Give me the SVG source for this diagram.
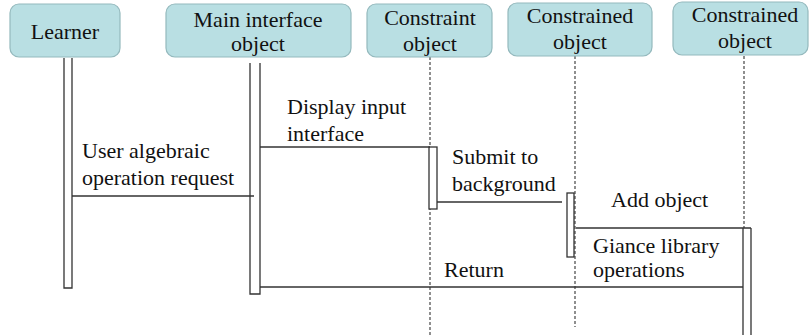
<svg xmlns="http://www.w3.org/2000/svg" width="811" height="335" viewBox="0 0 811 335" font-family="Liberation Serif, DejaVu Serif, serif">
<style>
.box{fill:#b9dfe3;stroke:#94b9bd;stroke-width:1.2}
text{font-family:"Liberation Serif", "DejaVu Serif", serif;font-size:22px;fill:#111}
.ln{stroke:#333;stroke-width:1.3;fill:none}
.dash{stroke:#333;stroke-width:1.1;stroke-dasharray:3,2;fill:none}
.act{fill:#fff;stroke:#333;stroke-width:1.3}
</style>
<rect width="811" height="335" fill="#fff"/>
<g id="lifelines">
<path class="ln" d="M64,58V288H72V58"/>
<path class="ln" d="M250,63V294H260V63"/>
<path class="dash" d="M430,57V335"/>
<path class="dash" d="M575,56V327"/>
<path class="dash" d="M744,56V228"/>
<path class="ln" d="M743,228V335M751,228V335"/>
<rect class="act" x="429" y="147" width="8" height="62"/>
<rect class="act" x="567" y="193" width="7" height="64"/>
</g>
<g id="learner">
<rect class="box" x="10" y="4" width="110" height="53" rx="9"/>
<text x="65" y="39" text-anchor="middle">Learner</text>
</g>
<g id="main">
<rect class="box" x="166" y="4" width="185" height="53" rx="9"/>
<text x="258" y="27" text-anchor="middle">Main interface</text>
<text x="258" y="51" text-anchor="middle">object</text>
</g>
<g id="constraint">
<rect class="box" x="367" y="4" width="125" height="53" rx="9"/>
<text x="430" y="25" text-anchor="middle">Constraint</text>
<text x="430" y="51" text-anchor="middle">object</text>
</g>
<g id="constrained1">
<rect class="box" x="508" y="3" width="144" height="53" rx="9"/>
<text x="580" y="23" text-anchor="middle">Constrained</text>
<text x="580" y="49" text-anchor="middle">object</text>
</g>
<g id="constrained2">
<rect class="box" x="673" y="2" width="135" height="53" rx="9"/>
<text x="745" y="22" text-anchor="middle">Constrained</text>
<text x="745" y="48" text-anchor="middle">object</text>
</g>
<g id="connectors">
<path class="ln" d="M72,196H254"/>
<path class="ln" d="M260,147H430"/>
<path class="ln" d="M437,202H562"/>
<path class="ln" d="M576,228H751"/>
<path class="ln" d="M260,287H743"/>
</g>
<g id="labels">
<text x="82" y="158">User algebraic</text>
<text x="82" y="185">operation request</text>
<text x="287" y="114">Display input</text>
<text x="287" y="141">interface</text>
<text x="452" y="164">Submit to</text>
<text x="452" y="191">background</text>
<text x="611" y="207">Add object</text>
<text x="593" y="253">Giance library</text>
<text x="593" y="277">operations</text>
<text x="444" y="277">Return</text>
</g>
</svg>
